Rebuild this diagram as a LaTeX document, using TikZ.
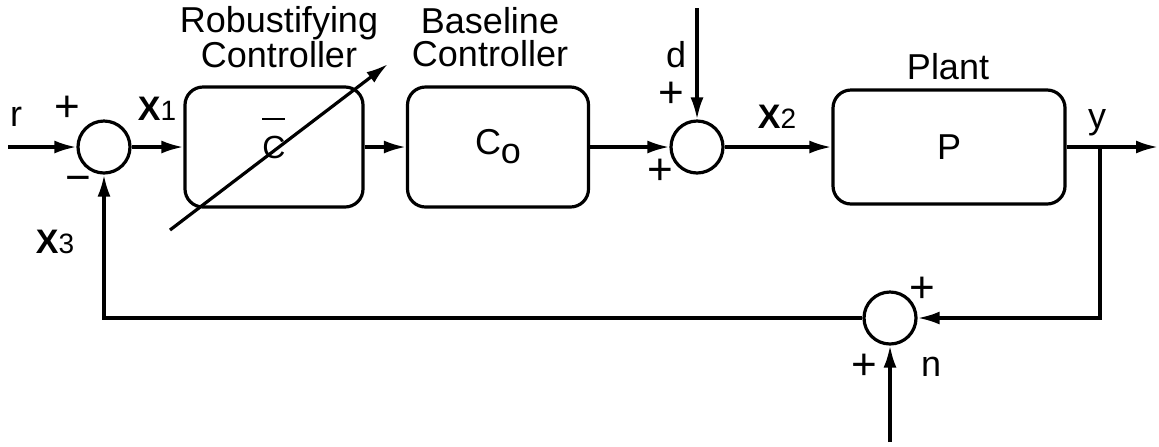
\documentclass[tikz,border=0pt]{standalone}
\usepackage{fontspec}
\setmainfont{Liberation Sans}
\usetikzlibrary{arrows.meta}

\tikzset{
  block/.style={draw,rounded corners=9pt,inner sep=0pt},
  sumnode/.style={draw,circle,minimum size=26pt,inner sep=0pt},
  lbl/.style={inner sep=0pt,font=\fontsize{18}{16.5}\selectfont},
  sgn/.style={inner sep=0pt,font=\fontsize{22}{22}\selectfont},
}
\newcommand{\sigx}[1]{{\fontsize{17}{18}\selectfont\bfseries X}{\fontsize{14}{15}\selectfont #1}}

\begin{document}
\begin{tikzpicture}[x=0.5pt,y=-0.5pt,line width=1.6pt,>={Latex[length=11pt,width=6.5pt]}]
        \useasboundingbox (0,0) rectangle (1159,446);
        \node[sumnode] (sum1) at (104,147) {};
        \node[block,minimum width=89pt,minimum height=60pt] (cbar) at (274,147)
          {\fontsize{16}{18}\selectfont\makebox[0pt][l]{\raisebox{19pt}[0pt][0pt]{\rule{11.5pt}{1.2pt}}}C};
        \node[block,minimum width=90.5pt,minimum height=60pt,font=\fontsize{18}{20}\selectfont] (co) at (498,147) {C\raisebox{-4.5pt}{o}};
        \node[sumnode] (sum2) at (697,147) {};
        \node[block,minimum width=116pt,minimum height=57pt,font=\fontsize{18}{20}\selectfont] (plant) at (949,147) {P};
        \node[sumnode] (sum3) at (890,318) {};
        \coordinate (rin) at (8,147);
        \coordinate (yout) at (1158,147);
        \coordinate (ybr) at (1100,147);
        \coordinate (dtop) at (697,8);
        \coordinate (nbot) at (890,442);
        \coordinate (tune0) at (170,230);
        \coordinate (tune1) at (388,64);
        % labels
        \node[lbl] (rlbl) at (16,117) {r};
        \node[sgn] (p1) at (67,109) {+};
        \node[sgn] (m1) at (78,184) {−};
        \node[lbl] (x1) at (157,109) {\sigx{1}};
        \node[lbl,align=center] (robust) at (279,37) {Robustifying\\Controller};
        \node[lbl,align=center] (base) at (490,37) {Baseline\\Controller};
        \node[lbl] (dlbl) at (676,55) {d};
        \node[sgn] (p2) at (671,95) {+};
        \node[sgn] (p3) at (660,172) {+};
        \node[lbl] (x2) at (777,117) {\sigx{2}};
        \node[lbl] (plbl) at (948,67) {Plant};
        \node[lbl] (ylbl) at (1097,123) {y};
        \node[lbl] (x3) at (55,242) {\sigx{3}};
        \node[sgn] (p4) at (922,290) {+};
        \node[sgn] (p5) at (864,367) {+};
        \node[lbl] (nlbl) at (931,367) {n};
        \path[->] (rin) edge (sum1) (sum1) edge (cbar) (cbar) edge (co) (co) edge (sum2)
          (sum2) edge (plant) (plant) edge (yout) (dtop) edge (sum2) (nbot) edge (sum3)
          (tune0) edge (tune1);
        \draw[->] (ybr) |- (sum3);
        \draw[->] (sum3) -| (sum1);
      \end{tikzpicture}
\end{document}
